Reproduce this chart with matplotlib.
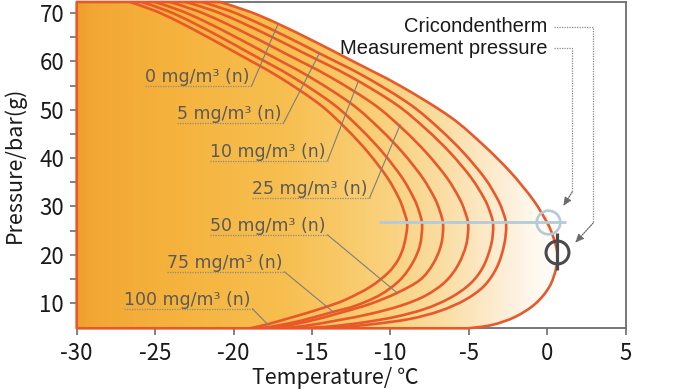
import numpy as np
import matplotlib
matplotlib.use("Agg")
import matplotlib.pyplot as plt
from matplotlib.patches import PathPatch
from matplotlib.path import Path
from matplotlib.colors import LinearSegmentedColormap

# ---------------- data ----------------
contents = ["0", "5", "10", "25", "50", "75", "100"]   # mg/m3 (n)

t_0 = [-20.86, -18.95, -17.16, -14.80, -12.57, -9.38, -6.19, -4.09, -2.36, -0.90, 0.00, 0.38, 0.64, 0.57, 0.13, -0.77, -2.05, -3.51, -5.04]
p_0 = [72.3, 70.27, 67.79, 64.06, 60.34, 54.96, 48.54, 42.75, 37.16, 31.37, 26.61, 23.71, 20.40, 17.30, 13.37, 9.85, 7.16, 5.50, 4.8]

t_5 = [-22.01, -20.28, -18.67, -16.54, -14.53, -11.65, -8.78, -6.88, -5.33, -4.00, -3.20, -2.85, -2.62, -2.75, -3.20, -4.02, -5.24, -6.83, -8.74, -10.98, -13.21, -15.12]
p_5 = [72.3, 70.50, 68.30, 64.99, 61.68, 56.90, 51.19, 46.06, 41.09, 35.94, 31.72, 29.14, 26.20, 22.06, 17.51, 13.58, 10.68, 8.40, 6.75, 5.71, 5.03, 4.8]

t_10 = [-23.03, -21.29, -19.66, -17.51, -15.48, -12.57, -9.67, -7.75, -6.18, -4.85, -4.03, -3.68, -3.45, -3.58, -4.09, -4.92, -6.19, -7.79, -9.70, -11.93, -14.16, -16.08]
p_10 = [72.3, 70.50, 68.30, 64.99, 61.68, 56.90, 51.19, 46.06, 41.09, 35.94, 31.72, 29.14, 26.20, 22.06, 17.51, 13.99, 11.09, 8.82, 7.16, 5.92, 5.09, 4.8]

t_25 = [-24.05, -22.36, -20.78, -18.69, -16.72, -13.90, -11.08, -9.22, -7.70, -6.40, -5.61, -5.27, -5.04, -5.17, -5.68, -6.51, -7.79, -9.38, -11.29, -13.21, -15.44, -17.03]
p_25 = [72.3, 70.50, 68.30, 64.99, 61.68, 56.90, 51.19, 46.06, 41.09, 35.94, 31.72, 29.14, 26.20, 22.06, 17.92, 14.40, 11.51, 9.44, 7.78, 6.54, 5.30, 4.8]

t_50 = [-25.01, -23.37, -21.84, -19.83, -17.92, -15.20, -12.47, -10.67, -9.20, -7.95, -7.18, -6.86, -6.64, -6.77, -7.28, -8.11, -9.57, -11.29, -13.21, -15.12, -17.03, -17.80]
p_50 = [72.3, 70.50, 68.30, 64.99, 61.68, 56.90, 51.19, 46.06, 41.09, 35.94, 31.72, 29.14, 26.20, 22.06, 18.13, 14.82, 12.13, 9.85, 7.99, 6.33, 5.09, 4.8]

t_75 = [-25.84, -24.25, -22.76, -20.80, -18.95, -16.29, -13.65, -11.90, -10.47, -9.25, -8.51, -8.19, -7.98, -8.11, -8.55, -9.38, -10.66, -12.25, -13.65, -15.76, -17.67, -18.44]
p_75 = [72.3, 70.50, 68.30, 64.99, 61.68, 56.90, 51.19, 46.06, 41.09, 35.94, 31.72, 29.14, 26.20, 22.06, 18.54, 14.82, 11.71, 9.44, 8.20, 6.33, 5.09, 4.8]

t_100 = [-26.60, -25.03, -23.56, -21.62, -19.78, -17.16, -14.54, -12.81, -11.40, -10.19, -9.46, -9.15, -8.93, -9.13, -9.51, -10.15, -11.29, -12.89, -14.48, -16.40, -17.99, -18.95]
p_100 = [72.3, 70.50, 68.30, 64.99, 61.68, 56.90, 51.19, 46.06, 41.09, 35.94, 31.72, 29.14, 26.20, 22.06, 18.96, 16.27, 13.37, 10.68, 8.82, 6.95, 5.51, 4.8]

measurement_t = 0.05
measurement_p = 26.8
measurement_line_t = [-10.72, 1.22]
cricondentherm_t = 0.64
cricondentherm_p = 20.6
cricondentherm_bar_p = [16.9, 24.5]

x_ticks = [-30, -25, -20, -15, -10, -5, 0, 5]
y_ticks = [10, 20, 30, 40, 50, 60, 70]

# ---------------- style ----------------
ORANGE = "#E8582A"
GRAY = "#6d6d6d"
LABEL_GRAY = "#5a5a5a"
AXFONT = ["Noto Sans CJK JP", "DejaVu Sans"]


def smooth_path(t, p):
    """Bezier path passing through every given point (Catmull-Rom tangents)."""
    pts = np.column_stack([t, p]).astype(float)
    ext = np.vstack([pts[0], pts, pts[-1]])
    verts = [pts[0]]
    codes = [Path.MOVETO]
    for i in range(len(pts) - 1):
        p0, p1, p2, p3 = ext[i], ext[i + 1], ext[i + 2], ext[i + 3]
        c1 = p1 + (p2 - p0) / 6.0
        c2 = p2 - (p3 - p1) / 6.0
        verts += [c1, c2, p2]
        codes += [Path.CURVE4] * 3
    return verts, codes


fig = plt.figure(figsize=(7, 3.9), dpi=100)
ax = fig.add_axes([76.7 / 700, 1 - 328.3 / 390, 549 / 700, 326.3 / 390])
ax.set_xlim(-30, 5)
ax.set_ylim(4.8, 72.3)

# gradient fill inside the outer envelope
v0, c0 = smooth_path(t_0, p_0)
outer_verts = v0 + [(-30, 4.8), (-30, 72.3), v0[0]]
outer_codes = c0 + [Path.LINETO, Path.LINETO, Path.CLOSEPOLY]
outer_path = Path(outer_verts, outer_codes)

clip = PathPatch(outer_path, facecolor="none", edgecolor="none", transform=ax.transData)
ax.add_patch(clip)
cmap = LinearSegmentedColormap.from_list(
    "grad",
    [(0.0, "#EF9F2E"), (0.03, "#F2A734"), (0.2, "#F5B33D"), (0.43, "#F7BF50"),
     (0.6, "#F9CE74"), (0.74, "#FADC9E"), (0.85, "#FCEACB"), (0.94, "#FEF8EE"), (1.0, "#FFFFFF")])
grad = np.linspace(0, 1, 600).reshape(1, -1)
im = ax.imshow(grad, extent=(-30, 1.0, 4.8, 72.3), aspect="auto", cmap=cmap,
               origin="lower", zorder=1, interpolation="bilinear")
im.set_clip_path(clip)

edge = PathPatch(outer_path, facecolor="none", edgecolor=ORANGE, lw=1.9,
                 zorder=4, clip_on=False, joinstyle="round")
ax.add_patch(edge)

for t, p in [(t_5, p_5), (t_10, p_10), (t_25, p_25), (t_50, p_50), (t_75, p_75), (t_100, p_100)]:
    v, c = smooth_path(t, p)
    ax.add_patch(PathPatch(Path(v, c), facecolor="none", edgecolor=ORANGE, lw=1.9, zorder=3,
                           joinstyle="round"))

# spines / ticks
for s in ax.spines.values():
    s.set_color(GRAY)
    s.set_linewidth(1.3)
    s.set_zorder(2)
ax.set_xticks(x_ticks)
ax.set_xticklabels([str(v) for v in x_ticks])
ax.set_yticks(y_ticks)
ax.set_yticks([15, 25, 35, 45, 55, 65], minor=True)
ax.tick_params(axis="both", which="major", direction="out", length=5, width=1.2, color=GRAY,
               labelsize=16, pad=4)
ax.tick_params(axis="y", which="minor", direction="out", length=5, width=1.2, color=GRAY)
ax.tick_params(axis="x", pad=5)
for lab in ax.get_xticklabels() + ax.get_yticklabels():
    lab.set_family(AXFONT)
    lab.set_color("#1a1a1a")

ax.set_xlabel("Temperature/ ℃", fontsize=15.5, family=AXFONT, color="#1a1a1a")
ax.set_ylabel("Pressure/bar(g)", fontsize=15.5, family=AXFONT, color="#1a1a1a")
ax.xaxis.set_label_coords((335 - 76.7) / 549, (328.3 - 378) / 326.3)
ax.xaxis.label.set_va("center")
ax.yaxis.set_label_coords((15 - 76.7) / 549, 0.5)
ax.yaxis.label.set_va("center")

# measurement pressure & cricondentherm markers
ax.plot(measurement_line_t, [measurement_p, measurement_p], color="#B4CAD8", lw=2.0, zorder=5,
        solid_capstyle="butt")
ax.plot([measurement_t], [measurement_p], marker="o", ms=17, mfc="none", mec="#B4CAD8", mew=1.9, zorder=6)
ax.plot([cricondentherm_t, cricondentherm_t], cricondentherm_bar_p, color="#4a4a4a", lw=2.3, zorder=6,
        solid_capstyle="butt")
ax.plot([cricondentherm_t], [cricondentherm_p], marker="o", ms=16.5, mfc="none", mec="#4a4a4a", mew=2.2,
        zorder=6)

# content labels with dotted underline and leader
lab_left = [-25.64, -23.60, -21.50, -18.82, -21.50, -24.24, -26.98]
lab_under = [54.94, 47.28, 39.44, 31.78, 24.13, 16.47, 8.82]
lead_t = [-17.16, -14.53, -12.06, -9.38, -9.57, -13.65, -17.80]
lead_p = [67.79, 61.68, 55.79, 46.9, 12.13, 8.20, 5.51]

fig.canvas.draw()
renderer = fig.canvas.get_renderer()
inv = ax.transData.inverted()
for c, x0, pu, lt, lp in zip(contents, lab_left, lab_under, lead_t, lead_p):
    txt = ax.text(x0, pu + 0.75, f"{c} mg/m³ (n)", fontsize=12.5, family="DejaVu Sans",
                  color=LABEL_GRAY, ha="left", va="baseline", zorder=7)
    bb = txt.get_window_extent(renderer)
    x1 = inv.transform((bb.x1 + 2, 0))[0]
    ax.plot([x0, x1], [pu, pu], color="#8a8a8a", lw=0.9, ls=(0, (1, 1)), zorder=7)
    ax.plot([x1, lt], [pu, lp], color="#7d7d7d", lw=0.8, zorder=7)

# right annotations
ann_font = dict(fontsize=14.5, family=["Liberation Sans", "DejaVu Sans"], color="#1a1a1a",
                ha="right", va="center", zorder=8)
ax.text(0.0, 67.17, "Cricondentherm", **ann_font)
ax.text(0.0, 62.7, "Measurement pressure", **ann_font)
dot = dict(color="#8a8a8a", lw=0.9, ls=(0, (1, 1)), zorder=8, clip_on=False)
ax.plot([0.4, 2.93, 2.93], [67.17, 67.17, 26.6], **dot)
ax.plot([0.4, 1.59, 1.59], [62.7, 62.7, 33.0], **dot)
arrow = dict(arrowstyle="-|>,head_length=0.5,head_width=0.22", color="#6a6a6a", lw=0.9,
             linestyle=(0, (1, 1)), shrinkA=0, shrinkB=0)
ax.annotate("", xy=(1.78, 22.5), xytext=(2.93, 26.6), arrowprops=arrow, zorder=8)
ax.annotate("", xy=(1.02, 30.1), xytext=(1.59, 33.0), arrowprops=arrow, zorder=8)

fig.savefig("out.png", dpi=100)
